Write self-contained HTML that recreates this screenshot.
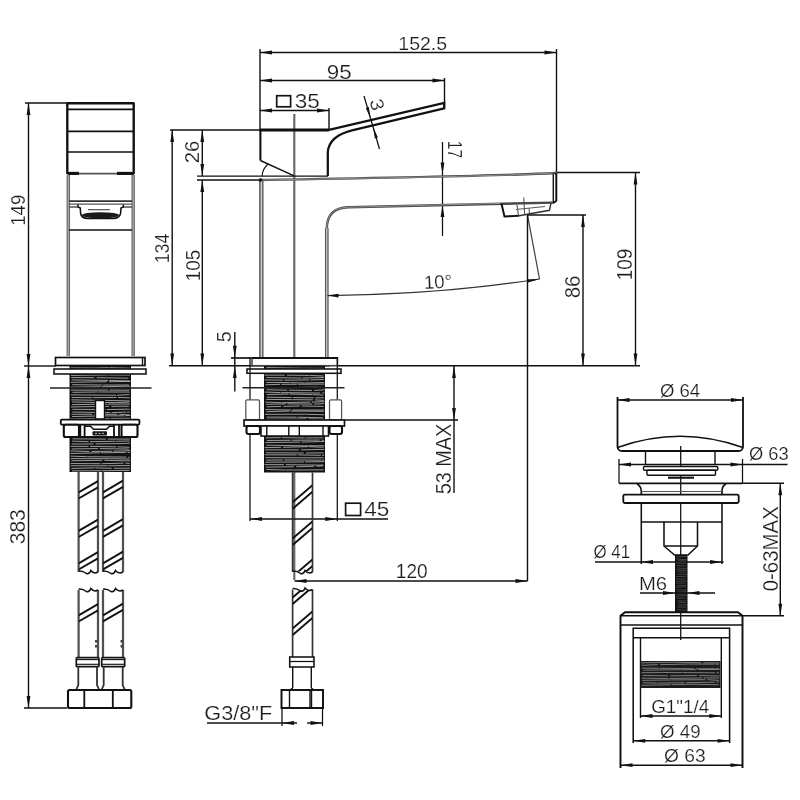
<!DOCTYPE html>
<html><head><meta charset="utf-8"><title>Drawing</title>
<style>
html,body{margin:0;padding:0;background:#fff;}
body{width:800px;height:800px;overflow:hidden;}
svg{display:block;}
text{font-family:"Liberation Sans",sans-serif;stroke:#fff;stroke-width:0.2px;}
</style></head><body>
<svg width="800" height="800" viewBox="0 0 800 800">
<rect width="800" height="800" fill="#fff"/>
<g opacity="0.999">
<line x1="25" y1="103" x2="67" y2="103" stroke="#111" stroke-width="1.4" />
<line x1="24" y1="366" x2="56" y2="366" stroke="#111" stroke-width="1.4" />
<line x1="24" y1="708" x2="67" y2="708" stroke="#111" stroke-width="1.4" />
<line x1="28.5" y1="103" x2="28.5" y2="366" stroke="#111" stroke-width="1.4" />
<polygon points="28.50,103.00 30.40,115.00 26.60,115.00" fill="#111"/>
<polygon points="28.50,366.00 26.60,354.00 30.40,354.00" fill="#111"/>
<line x1="28.5" y1="366" x2="28.5" y2="708" stroke="#111" stroke-width="1.4" />
<polygon points="28.50,366.00 30.40,378.00 26.60,378.00" fill="#111"/>
<polygon points="28.50,708.00 26.60,696.00 30.40,696.00" fill="#111"/>
<text x="25.00" y="210.25" font-size="20.95" text-anchor="middle" fill="#1c1c1c" transform="rotate(-90 25.00 210.25)" textLength="31.0" lengthAdjust="spacingAndGlyphs">149</text>
<text x="25.00" y="526.75" font-size="21.65" text-anchor="middle" fill="#1c1c1c" transform="rotate(-90 25.00 526.75)" textLength="35.1" lengthAdjust="spacingAndGlyphs">383</text>
<line x1="66.8" y1="103.3" x2="134.4" y2="103.3" stroke="#111" stroke-width="2.38" />
<line x1="67.3" y1="103" x2="67.3" y2="174" stroke="#111" stroke-width="2.38" />
<line x1="133.7" y1="103" x2="133.7" y2="174" stroke="#111" stroke-width="2.38" />
<line x1="68" y1="109.3" x2="133.5" y2="109.3" stroke="#111" stroke-width="1.68" />
<line x1="68" y1="131.3" x2="133.5" y2="131.3" stroke="#111" stroke-width="1.68" />
<line x1="68" y1="152" x2="133.5" y2="152" stroke="#111" stroke-width="1.68" />
<line x1="68" y1="173.6" x2="133.5" y2="173.6" stroke="#555" stroke-width="1.82" />
<line x1="67.5" y1="173.4" x2="79" y2="173.4" stroke="#111" stroke-width="3.08" />
<line x1="117" y1="173.4" x2="134" y2="173.4" stroke="#111" stroke-width="3.08" />
<line x1="68.3" y1="175" x2="68.3" y2="356" stroke="#707070" stroke-width="3.5" />
<line x1="68.3" y1="175" x2="68.3" y2="356" stroke="#ccc" stroke-width="0.7" />
<line x1="133.2" y1="175" x2="133.2" y2="356" stroke="#707070" stroke-width="3.5" />
<line x1="133.2" y1="175" x2="133.2" y2="356" stroke="#ccc" stroke-width="0.7" />
<line x1="69" y1="201.2" x2="132" y2="201.2" stroke="#333" stroke-width="1.82" />
<line x1="69" y1="204.2" x2="132" y2="204.2" stroke="#555" stroke-width="1.26" />
<line x1="69" y1="207" x2="77.5" y2="207" stroke="#444" stroke-width="1.4" />
<line x1="123" y1="207" x2="132" y2="207" stroke="#444" stroke-width="1.4" />
<path d="M78,204.5 L78,207 L80.3,208 L80.6,213.5 Q81.5,218.3 88,218.6 L113,218.6 Q119.5,218.3 120.6,213.5 L121,208 L123.3,207 L123.3,204.5" stroke="#111" stroke-width="1.54" fill="none" />
<ellipse cx="100.5" cy="215.3" rx="18.5" ry="3.1" fill="#1a1a1a"/>
<line x1="88" y1="209.7" x2="110" y2="209.7" stroke="#444" stroke-width="1.12" />
<line x1="69" y1="230" x2="132" y2="230" stroke="#111" stroke-width="1.4" />
<rect x="55.5" y="357.5" width="89.5" height="8.0" rx="0" stroke="#111" stroke-width="1.68" fill="none"/>
<line x1="142.5" y1="357.5" x2="142.5" y2="365.5" stroke="#111" stroke-width="1.4" />
<rect x="69.5" y="366" width="61.5" height="106" fill="#121212"/>
<path d="M70.6,367.86L94.2,368.04M94.4,368.04L108.7,367.70M109.3,367.70L129.8,368.17" stroke="#f2f2f2" stroke-width="0.62" fill="none"/>
<path d="M71.6,370.08L102.1,370.11M104.0,370.11L130.4,370.47" stroke="#f2f2f2" stroke-width="0.62" fill="none"/>
<path d="M70.8,372.46L107.3,372.76M109.5,372.76L129.1,372.62" stroke="#f2f2f2" stroke-width="0.62" fill="none"/>
<path d="M71.1,375.45L108.0,374.94M108.5,374.94L129.8,375.12" stroke="#f2f2f2" stroke-width="0.62" fill="none"/>
<path d="M71.3,377.57L94.4,377.69M96.7,377.69L128.4,378.19" stroke="#f2f2f2" stroke-width="0.62" fill="none"/>
<path d="M71.7,379.89L108.1,380.45M109.5,380.45L130.2,380.92" stroke="#f2f2f2" stroke-width="0.62" fill="none"/>
<path d="M70.7,382.28L106.9,381.70M108.9,381.70L130.3,381.41" stroke="#f2f2f2" stroke-width="0.62" fill="none"/>
<path d="M72.2,384.71L102.2,385.02M103.0,385.02L129.0,385.03" stroke="#f2f2f2" stroke-width="0.62" fill="none"/>
<path d="M70.8,387.18L100.4,386.76M101.4,386.76L130.3,386.12" stroke="#f2f2f2" stroke-width="0.62" fill="none"/>
<path d="M70.8,390.16L108.1,390.11M109.4,390.11L129.6,390.19" stroke="#f2f2f2" stroke-width="0.62" fill="none"/>
<path d="M72.4,392.34L97.6,391.97M98.3,391.97L129.7,392.04" stroke="#f2f2f2" stroke-width="0.62" fill="none"/>
<path d="M71.0,394.84L85.6,395.02M85.7,395.02L116.0,395.27M116.9,395.27L129.4,394.60" stroke="#f2f2f2" stroke-width="0.62" fill="none"/>
<path d="M71.7,397.52L92.2,397.65M93.0,397.65L116.5,397.46M118.0,397.46L129.9,397.84" stroke="#f2f2f2" stroke-width="0.62" fill="none"/>
<path d="M71.4,399.83L93.5,400.25M94.1,400.25L113.0,400.53M113.2,400.53L130.0,401.00" stroke="#f2f2f2" stroke-width="0.62" fill="none"/>
<path d="M72.1,401.94L94.9,402.48M96.0,402.48L115.9,402.52M116.3,402.52L129.2,402.08" stroke="#f2f2f2" stroke-width="0.62" fill="none"/>
<path d="M72.0,404.67L107.0,404.15M107.7,404.15L130.1,403.94" stroke="#f2f2f2" stroke-width="0.62" fill="none"/>
<path d="M71.0,406.98L109.0,406.29M111.3,406.29L129.0,406.20" stroke="#f2f2f2" stroke-width="0.62" fill="none"/>
<path d="M72.3,409.32L105.7,409.55M107.0,409.55L128.5,409.17M128.7,409.17L130.1,409.60" stroke="#f2f2f2" stroke-width="0.62" fill="none"/>
<path d="M72.3,412.05L110.3,412.61M111.7,412.61L126.1,412.15M126.8,412.15L129.7,412.03" stroke="#f2f2f2" stroke-width="0.62" fill="none"/>
<path d="M71.5,414.29L92.1,414.26M94.1,414.26L117.2,414.31M119.2,414.31L129.3,414.90" stroke="#f2f2f2" stroke-width="0.62" fill="none"/>
<path d="M72.1,416.54L102.4,415.91M103.1,415.91L124.1,415.80M125.2,415.80L130.5,415.18" stroke="#f2f2f2" stroke-width="0.62" fill="none"/>
<path d="M70.3,419.03L109.7,418.45M110.9,418.45L130.0,418.24" stroke="#f2f2f2" stroke-width="0.62" fill="none"/>
<path d="M71.5,421.65L90.4,421.13M91.8,421.13L124.4,420.54M124.9,420.54L129.6,420.93" stroke="#f2f2f2" stroke-width="0.62" fill="none"/>
<path d="M72.0,424.26L97.2,424.26M99.0,424.26L123.9,424.20M124.5,424.20L129.5,423.60" stroke="#f2f2f2" stroke-width="0.62" fill="none"/>
<path d="M71.1,426.87L109.4,427.42M111.4,427.42L129.8,426.89" stroke="#f2f2f2" stroke-width="0.62" fill="none"/>
<path d="M71.7,429.32L106.3,429.65M107.7,429.65L124.4,428.95M124.7,428.95L130.4,428.38" stroke="#f2f2f2" stroke-width="0.62" fill="none"/>
<path d="M72.2,431.34L86.8,430.81M88.9,430.81L120.4,431.45M121.9,431.45L130.4,431.82" stroke="#f2f2f2" stroke-width="0.62" fill="none"/>
<path d="M71.8,433.75L105.3,433.14M106.1,433.14L129.3,432.78" stroke="#f2f2f2" stroke-width="0.62" fill="none"/>
<path d="M70.6,436.51L104.2,436.32M105.2,436.32L128.3,435.74" stroke="#f2f2f2" stroke-width="0.62" fill="none"/>
<path d="M72.4,438.84L105.9,439.10M107.8,439.10L129.7,439.08" stroke="#f2f2f2" stroke-width="0.62" fill="none"/>
<path d="M72.2,441.13L88.7,441.71M90.0,441.71L115.5,441.27M116.2,441.27L129.6,441.01" stroke="#f2f2f2" stroke-width="0.62" fill="none"/>
<path d="M71.7,444.06L93.4,443.94M95.6,443.94L124.8,443.54M124.8,443.54L129.9,443.08" stroke="#f2f2f2" stroke-width="0.62" fill="none"/>
<path d="M70.8,446.40L88.5,446.37M90.0,446.37L116.2,446.82M117.6,446.82L129.4,447.32" stroke="#f2f2f2" stroke-width="0.62" fill="none"/>
<path d="M71.8,448.96L98.0,448.59M99.8,448.59L129.1,449.09" stroke="#f2f2f2" stroke-width="0.62" fill="none"/>
<path d="M70.5,450.99L89.3,451.49M91.6,451.49L112.2,451.23M113.3,451.23L130.4,450.66" stroke="#f2f2f2" stroke-width="0.62" fill="none"/>
<path d="M70.7,453.50L99.8,452.81M100.7,452.81L126.0,452.41M127.5,452.41L129.9,452.47" stroke="#f2f2f2" stroke-width="0.62" fill="none"/>
<path d="M70.7,456.14L87.6,456.71M87.9,456.71L126.3,457.09M128.2,457.09L129.5,457.31" stroke="#f2f2f2" stroke-width="0.62" fill="none"/>
<path d="M70.7,458.64L109.7,458.69M109.9,458.69L130.0,459.00" stroke="#f2f2f2" stroke-width="0.62" fill="none"/>
<path d="M71.4,460.75L102.2,460.30M104.4,460.30L130.3,460.90" stroke="#f2f2f2" stroke-width="0.62" fill="none"/>
<path d="M70.8,463.52L100.4,463.73M101.5,463.73L123.6,463.12M125.4,463.12L129.7,463.46" stroke="#f2f2f2" stroke-width="0.62" fill="none"/>
<path d="M70.7,465.77L107.4,465.77M108.0,465.77L130.0,465.54" stroke="#f2f2f2" stroke-width="0.62" fill="none"/>
<path d="M71.4,468.45L94.5,467.91M95.2,467.91L111.8,468.30M113.6,468.30L130.2,468.18" stroke="#f2f2f2" stroke-width="0.62" fill="none"/>
<path d="M72.0,470.89L101.4,470.74M101.9,470.74L129.6,470.33" stroke="#f2f2f2" stroke-width="0.62" fill="none"/>
<rect x="54" y="369" width="92" height="5" rx="0" stroke="#111" stroke-width="1.54" fill="#fff"/>
<line x1="50" y1="388" x2="151.5" y2="388" stroke="#222" stroke-width="1.54" />
<rect x="95.5" y="400.5" width="9.0" height="18.5" rx="0" stroke="#111" stroke-width="1.4" fill="#fff"/>
<rect x="63.8" y="424.5" width="73.7" height="12.6" fill="#fff"/>
<rect x="60.8" y="419.6" width="78.60000000000001" height="5.0" rx="1" stroke="#111" stroke-width="1.82" fill="#fff"/>
<rect x="63.8" y="424.8" width="15.200000000000003" height="12.199999999999989" rx="1.8" stroke="#111" stroke-width="2.1" fill="#fff"/>
<rect x="121.5" y="424.8" width="16.0" height="12.199999999999989" rx="1.8" stroke="#111" stroke-width="2.1" fill="#fff"/>
<line x1="80.3" y1="425" x2="80.3" y2="437" stroke="#111" stroke-width="1.82" />
<line x1="84.6" y1="425" x2="84.6" y2="437" stroke="#111" stroke-width="1.82" />
<line x1="114" y1="425" x2="114" y2="437" stroke="#111" stroke-width="1.82" />
<line x1="119" y1="425" x2="119" y2="437" stroke="#111" stroke-width="1.82" />
<line x1="79" y1="437" x2="121.5" y2="437" stroke="#111" stroke-width="1.96" />
<path d="M85,426.3 L90.5,426.3 L93.5,429.3 L106.5,429.3 L109.5,426.3 L114,426.3" stroke="#111" stroke-width="1.54" fill="none" />
<rect x="92.5" y="431.2" width="14.5" height="4.4" rx="1" fill="#151515"/>
<line x1="95" y1="433.4" x2="105" y2="433.4" stroke="#ddd" stroke-width="0.84" stroke-dasharray="2 1.5"/>
<line x1="78.6" y1="472" x2="78.6" y2="572" stroke="#505050" stroke-width="2.24" />
<line x1="78.6" y1="590" x2="78.6" y2="657.5" stroke="#505050" stroke-width="2.24" />
<line x1="98" y1="472" x2="98" y2="572" stroke="#505050" stroke-width="2.24" />
<line x1="98" y1="590" x2="98" y2="657.5" stroke="#505050" stroke-width="2.24" />
<path d="M78.6,571 Q82.47999999999999,570.5 86.36,573.5 Q89.3,574.5 90.8,570.5 Q94.12,574.5 98,572" stroke="#111" stroke-width="1.54" fill="none" />
<path d="M78.6,589 Q82.47999999999999,588.5 86.36,591.5 Q89.3,592.5 90.8,588.5 Q94.12,592.5 98,590" stroke="#111" stroke-width="1.54" fill="none" />
<clipPath id="hc1"><rect x="78.6" y="473" width="19.400000000000006" height="98.5"/></clipPath>
<g clip-path="url(#hc1)">
<line x1="78.6" y1="498.5" x2="98" y2="487.248" stroke="#111" stroke-width="1.96" />
<line x1="78.6" y1="492.3" x2="98" y2="481.048" stroke="#111" stroke-width="1.96" />
<line x1="78.6" y1="537" x2="98" y2="525.748" stroke="#111" stroke-width="1.96" />
<line x1="78.6" y1="530.8" x2="98" y2="519.548" stroke="#111" stroke-width="1.96" />
<line x1="78.6" y1="569.5" x2="98" y2="558.248" stroke="#111" stroke-width="1.96" />
<line x1="78.6" y1="563.3" x2="98" y2="552.048" stroke="#111" stroke-width="1.96" />
</g>
<clipPath id="hc2"><rect x="78.6" y="591" width="19.400000000000006" height="66.0"/></clipPath>
<g clip-path="url(#hc2)">
<line x1="78.6" y1="621.5" x2="98" y2="610.248" stroke="#111" stroke-width="1.96" />
<line x1="78.6" y1="615.3" x2="98" y2="604.048" stroke="#111" stroke-width="1.96" />
</g>
<line x1="103" y1="472" x2="103" y2="572" stroke="#505050" stroke-width="2.24" />
<line x1="103" y1="590" x2="103" y2="657.5" stroke="#505050" stroke-width="2.24" />
<line x1="123" y1="472" x2="123" y2="572" stroke="#505050" stroke-width="2.24" />
<line x1="123" y1="590" x2="123" y2="657.5" stroke="#505050" stroke-width="2.24" />
<path d="M103,571 Q107.0,570.5 111.0,573.5 Q114.0,574.5 115.5,570.5 Q119.0,574.5 123,572" stroke="#111" stroke-width="1.54" fill="none" />
<path d="M103,589 Q107.0,588.5 111.0,591.5 Q114.0,592.5 115.5,588.5 Q119.0,592.5 123,590" stroke="#111" stroke-width="1.54" fill="none" />
<clipPath id="hc3"><rect x="103" y="473" width="20" height="98.5"/></clipPath>
<g clip-path="url(#hc3)">
<line x1="103" y1="498.5" x2="123" y2="486.9" stroke="#111" stroke-width="1.96" />
<line x1="103" y1="492.3" x2="123" y2="480.7" stroke="#111" stroke-width="1.96" />
<line x1="103" y1="537" x2="123" y2="525.4" stroke="#111" stroke-width="1.96" />
<line x1="103" y1="530.8" x2="123" y2="519.1999999999999" stroke="#111" stroke-width="1.96" />
<line x1="103" y1="569.5" x2="123" y2="557.9" stroke="#111" stroke-width="1.96" />
<line x1="103" y1="563.3" x2="123" y2="551.6999999999999" stroke="#111" stroke-width="1.96" />
</g>
<clipPath id="hc4"><rect x="103" y="591" width="20" height="66.0"/></clipPath>
<g clip-path="url(#hc4)">
<line x1="103" y1="621.5" x2="123" y2="609.9" stroke="#111" stroke-width="1.96" />
<line x1="103" y1="615.3" x2="123" y2="603.6999999999999" stroke="#111" stroke-width="1.96" />
</g>
<rect x="76.3" y="657.7" width="22.700000000000003" height="9.0" rx="1" stroke="#111" stroke-width="1.68" fill="#fff"/>
<line x1="76.3" y1="659.6" x2="99" y2="659.6" stroke="#111" stroke-width="1.12" />
<line x1="76.3" y1="664.3" x2="99" y2="664.3" stroke="#111" stroke-width="1.12" />
<path d="M78.3,666.7 L78.3,685 L76.3,689.5 M97,666.7 L97,685 L99,689.5" stroke="#333" stroke-width="1.82" fill="none" />
<rect x="101.7" y="657.7" width="23.0" height="9.0" rx="1" stroke="#111" stroke-width="1.68" fill="#fff"/>
<line x1="101.7" y1="659.6" x2="124.7" y2="659.6" stroke="#111" stroke-width="1.12" />
<line x1="101.7" y1="664.3" x2="124.7" y2="664.3" stroke="#111" stroke-width="1.12" />
<path d="M103.7,666.7 L103.7,685 L101.7,689.5 M122.7,666.7 L122.7,685 L124.7,689.5" stroke="#333" stroke-width="1.82" fill="none" />
<line x1="96" y1="640" x2="96" y2="650" stroke="#333" stroke-width="1.82" stroke-dasharray="2.5 2.5"/>
<line x1="121.5" y1="640" x2="121.5" y2="650" stroke="#333" stroke-width="1.82" stroke-dasharray="2.5 2.5"/>
<rect x="68" y="690" width="63.30000000000001" height="18" rx="1.5" stroke="#111" stroke-width="2.1" fill="#fff"/>
<line x1="84.3" y1="690" x2="84.3" y2="708" stroke="#111" stroke-width="1.82" />
<line x1="112.8" y1="690" x2="112.8" y2="708" stroke="#111" stroke-width="1.82" />
<line x1="260" y1="49" x2="260" y2="130" stroke="#111" stroke-width="1.4" />
<line x1="260" y1="52.5" x2="556.5" y2="52.5" stroke="#111" stroke-width="1.4" />
<polygon points="260.00,52.50 272.00,50.60 272.00,54.40" fill="#111"/>
<polygon points="556.50,52.50 544.50,54.40 544.50,50.60" fill="#111"/>
<line x1="556.5" y1="49" x2="556.5" y2="172" stroke="#111" stroke-width="1.4" />
<text x="422.75" y="50.00" font-size="18.99" text-anchor="middle" fill="#1c1c1c" textLength="48.8" lengthAdjust="spacingAndGlyphs">152.5</text>
<line x1="260" y1="80.5" x2="444.5" y2="80.5" stroke="#111" stroke-width="1.4" />
<polygon points="260.00,80.50 272.00,78.60 272.00,82.40" fill="#111"/>
<polygon points="444.50,80.50 432.50,82.40 432.50,78.60" fill="#111"/>
<line x1="444.5" y1="78" x2="444.5" y2="108" stroke="#111" stroke-width="1.4" />
<text x="339.25" y="78.70" font-size="19.97" text-anchor="middle" fill="#1c1c1c" textLength="24.9" lengthAdjust="spacingAndGlyphs">95</text>
<line x1="260" y1="110.5" x2="329" y2="110.5" stroke="#111" stroke-width="1.4" />
<polygon points="260.00,110.50 272.00,108.60 272.00,112.40" fill="#111"/>
<polygon points="329.00,110.50 317.00,112.40 317.00,108.60" fill="#111"/>
<line x1="329" y1="108" x2="329" y2="130" stroke="#111" stroke-width="1.4" />
<rect x="276.7" y="95.7" width="13.900000000000034" height="11.099999999999994" rx="0" stroke="#111" stroke-width="1.68" fill="none"/>
<text x="307.35" y="107.50" font-size="19.69" text-anchor="middle" fill="#1c1c1c" textLength="25.1" lengthAdjust="spacingAndGlyphs">35</text>
<line x1="294.3" y1="114" x2="294.3" y2="580" stroke="#666" stroke-width="2.1" />
<line x1="170" y1="130" x2="260" y2="130" stroke="#111" stroke-width="1.4" />
<line x1="169" y1="365.7" x2="330" y2="365.7" stroke="#111" stroke-width="1.4" />
<line x1="172.2" y1="130" x2="172.2" y2="365.5" stroke="#111" stroke-width="1.4" />
<polygon points="172.20,130.00 174.10,142.00 170.30,142.00" fill="#111"/>
<polygon points="172.20,365.50 170.30,353.50 174.10,353.50" fill="#111"/>
<line x1="202.3" y1="130" x2="202.3" y2="176.1" stroke="#111" stroke-width="1.4" />
<polygon points="202.30,130.00 204.20,142.00 200.40,142.00" fill="#111"/>
<polygon points="202.30,176.10 200.40,164.10 204.20,164.10" fill="#111"/>
<line x1="202.3" y1="180" x2="202.3" y2="365.5" stroke="#111" stroke-width="1.4" />
<polygon points="202.30,180.00 204.20,192.00 200.40,192.00" fill="#111"/>
<polygon points="202.30,365.50 200.40,353.50 204.20,353.50" fill="#111"/>
<line x1="197" y1="176.1" x2="328" y2="176.1" stroke="#111" stroke-width="1.4" />
<line x1="197" y1="180" x2="260" y2="180" stroke="#111" stroke-width="1.4" />
<text x="169.00" y="248.50" font-size="20.11" text-anchor="middle" fill="#1c1c1c" transform="rotate(-90 169.00 248.50)" textLength="29.4" lengthAdjust="spacingAndGlyphs">134</text>
<text x="199.00" y="152.00" font-size="20.81" text-anchor="middle" fill="#1c1c1c" transform="rotate(-90 199.00 152.00)" textLength="22.5" lengthAdjust="spacingAndGlyphs">26</text>
<text x="199.50" y="265.50" font-size="20.81" text-anchor="middle" fill="#1c1c1c" transform="rotate(-90 199.50 265.50)" textLength="31.5" lengthAdjust="spacingAndGlyphs">105</text>
<line x1="234.8" y1="332" x2="234.8" y2="391.5" stroke="#111" stroke-width="1.4" />
<polygon points="234.80,357.80 232.90,345.80 236.70,345.80" fill="#111"/>
<polygon points="234.80,366.00 236.70,378.00 232.90,378.00" fill="#111"/>
<text x="231.00" y="336.75" font-size="20.81" text-anchor="middle" fill="#1c1c1c" transform="rotate(-90 231.00 336.75)" textLength="11.0" lengthAdjust="spacingAndGlyphs">5</text>
<line x1="231" y1="358" x2="252" y2="358" stroke="#111" stroke-width="1.68" />
<line x1="259.5" y1="130" x2="329" y2="130" stroke="#111" stroke-width="2.8" />
<path d="M260.4,130 L260.4,160.5" stroke="#111" stroke-width="2.1" fill="none" />
<path d="M260.4,160.5 L294,175.8" stroke="#111" stroke-width="1.4" fill="none" />
<path d="M262,176 Q262.5,169 268,164" stroke="#111" stroke-width="1.12" fill="none" />
<path d="M329,129.9 L444.2,102.8 L444.2,108.4 L352,130.3 Q329,136 327.8,152 L327.8,176" stroke="#111" stroke-width="2.24" fill="none" />
<line x1="364" y1="96" x2="379.5" y2="149" stroke="#111" stroke-width="1.26" />
<polygon points="370.40,118.00 365.78,107.89 368.85,106.99" fill="#111"/>
<polygon points="373.30,127.50 377.92,137.61 374.85,138.51" fill="#111"/>
<text x="377.5" y="111.25" font-size="18.85" text-anchor="middle" fill="#1c1c1c" transform="rotate(76 377.5 104.5)" textLength="11.3" lengthAdjust="spacingAndGlyphs">3</text>
<line x1="442.5" y1="142" x2="442.5" y2="236" stroke="#111" stroke-width="1.26" />
<polygon points="442.50,174.50 440.60,162.50 444.40,162.50" fill="#111"/>
<polygon points="442.50,205.00 444.40,217.00 440.60,217.00" fill="#111"/>
<text x="447.50" y="149.50" font-size="19.41" text-anchor="middle" fill="#1c1c1c" transform="rotate(90 447.50 149.50)" textLength="17.3" lengthAdjust="spacingAndGlyphs">17</text>
<path d="M260,180 C400,177.6 500,176 556,173" stroke="#484848" stroke-width="2.38" fill="none" />
<path d="M262,180 C400,177.6 500,176 554,173" stroke="#c8c8c8" stroke-width="0.56" fill="none" />
<path d="M556.3,172.8 L556.3,200.8 L553,203.3" stroke="#111" stroke-width="1.96" fill="none" />
<line x1="553.3" y1="173.5" x2="553.3" y2="203" stroke="#111" stroke-width="1.4" />
<path d="M326.8,229 L326.8,228 Q327.3,208 348,207.2 C410,205.8 480,203.8 553,202.6" stroke="#484848" stroke-width="2.38" fill="none" />
<path d="M326.8,229 L326.8,228 Q327.3,208 348,207.2 C410,205.8 480,203.8 500,203.4" stroke="#c8c8c8" stroke-width="0.56" fill="none" />
<line x1="261.3" y1="181" x2="261.3" y2="357" stroke="#6c6c6c" stroke-width="4.62" />
<line x1="261.3" y1="181" x2="261.3" y2="357" stroke="#d8d8d8" stroke-width="1.12" />
<line x1="326.8" y1="228" x2="326.8" y2="357" stroke="#555" stroke-width="3.64" />
<line x1="326.8" y1="228" x2="326.8" y2="357" stroke="#e0e0e0" stroke-width="1.12" />
<circle cx="260.5" cy="180" r="1.8" fill="#111"/>
<path d="M501.5,203.7 L504.5,216.5 L519,215.8" stroke="#111" stroke-width="1.96" fill="none" />
<path d="M519,215.8 L549.5,210.3 L551,203" stroke="#333" stroke-width="1.4" fill="none" />
<path d="M517,205 L518.5,215.5 M516,209.5 L545,206.5 M529,208 L529.5,213" stroke="#555" stroke-width="1.12" fill="none" />
<line x1="523.8" y1="197.5" x2="524.6" y2="215" stroke="#444" stroke-width="0.98" />
<line x1="527.5" y1="215" x2="539.5" y2="279" stroke="#444" stroke-width="1.26" />
<path d="M539.5,279 Q440,294.5 327.5,295.6" stroke="#333" stroke-width="1.26" fill="none" />
<polygon points="539.50,279.20 527.85,282.55 527.38,279.19" fill="#111"/>
<polygon points="327.50,295.60 338.50,293.70 338.50,297.50" fill="#111"/>
<text x="438" y="288.25" font-size="18.85" text-anchor="middle" fill="#1c1c1c" transform="rotate(-3 438 281.5)" textLength="28.3" lengthAdjust="spacingAndGlyphs">10°</text>
<line x1="556.5" y1="172.5" x2="640" y2="172.5" stroke="#111" stroke-width="1.4" />
<line x1="337.5" y1="365.7" x2="640" y2="365.7" stroke="#111" stroke-width="1.4" />
<line x1="635.5" y1="172.5" x2="635.5" y2="365.5" stroke="#111" stroke-width="1.4" />
<polygon points="635.50,172.50 637.40,184.50 633.60,184.50" fill="#111"/>
<polygon points="635.50,365.50 633.60,353.50 637.40,353.50" fill="#111"/>
<line x1="527.5" y1="215" x2="586" y2="215" stroke="#111" stroke-width="1.4" />
<line x1="583" y1="215" x2="583" y2="365.5" stroke="#111" stroke-width="1.4" />
<polygon points="583.00,215.00 584.90,227.00 581.10,227.00" fill="#111"/>
<polygon points="583.00,365.50 581.10,353.50 584.90,353.50" fill="#111"/>
<text x="632.00" y="264.50" font-size="21.51" text-anchor="middle" fill="#1c1c1c" transform="rotate(-90 632.00 264.50)" textLength="31.6" lengthAdjust="spacingAndGlyphs">109</text>
<text x="580.00" y="287.00" font-size="22.21" text-anchor="middle" fill="#1c1c1c" transform="rotate(-90 580.00 287.00)" textLength="22.7" lengthAdjust="spacingAndGlyphs">86</text>
<line x1="527.5" y1="215" x2="527.5" y2="581" stroke="#111" stroke-width="1.4" />
<rect x="252" y="358" width="85.5" height="7.699999999999989" rx="0" stroke="#444" stroke-width="1.54" fill="#fff"/>
<line x1="252" y1="358" x2="337.5" y2="358" stroke="#111" stroke-width="2.1" />
<rect x="264" y="366" width="61" height="55" fill="#121212"/>
<path d="M266.5,367.56L301.3,368.18M302.3,368.18L323.6,368.37" stroke="#f2f2f2" stroke-width="0.62" fill="none"/>
<path d="M266.2,370.17L302.6,370.31M304.4,370.31L318.5,370.54M319.7,370.54L323.8,370.11" stroke="#f2f2f2" stroke-width="0.62" fill="none"/>
<path d="M264.6,372.74L295.4,372.83M297.8,372.83L324.3,373.24" stroke="#f2f2f2" stroke-width="0.62" fill="none"/>
<path d="M264.6,375.10L284.7,375.16M287.0,375.16L309.4,375.43M309.8,375.43L323.6,376.03" stroke="#f2f2f2" stroke-width="0.62" fill="none"/>
<path d="M266.3,377.54L301.3,378.05M302.4,378.05L323.8,377.50" stroke="#f2f2f2" stroke-width="0.62" fill="none"/>
<path d="M264.7,379.91L282.9,380.19M284.2,380.19L309.2,379.91M310.4,379.91L323.9,379.47" stroke="#f2f2f2" stroke-width="0.62" fill="none"/>
<path d="M266.3,382.46L289.9,382.59M290.5,382.59L304.6,382.99M304.9,382.99L324.2,382.58" stroke="#f2f2f2" stroke-width="0.62" fill="none"/>
<path d="M265.5,384.79L280.2,384.32M281.4,384.32L297.0,384.25M298.0,384.25L324.4,384.12" stroke="#f2f2f2" stroke-width="0.62" fill="none"/>
<path d="M264.6,387.72L284.3,387.68M284.7,387.68L314.9,387.15M315.0,387.15L324.1,387.56" stroke="#f2f2f2" stroke-width="0.62" fill="none"/>
<path d="M266.8,389.77L287.3,390.21M288.9,390.21L311.9,390.46M314.3,390.46L324.5,389.81" stroke="#f2f2f2" stroke-width="0.62" fill="none"/>
<path d="M264.9,392.06L280.3,392.62M280.8,392.62L320.2,393.04M322.4,393.04L324.4,392.77" stroke="#f2f2f2" stroke-width="0.62" fill="none"/>
<path d="M266.9,394.54L288.5,394.00M289.5,394.00L312.2,394.60M312.6,394.60L323.4,395.07" stroke="#f2f2f2" stroke-width="0.62" fill="none"/>
<path d="M266.8,397.16L291.6,397.55M292.8,397.55L313.8,397.86M315.3,397.86L323.9,397.84" stroke="#f2f2f2" stroke-width="0.62" fill="none"/>
<path d="M266.3,399.40L292.4,399.65M292.7,399.65L312.8,399.85M315.0,399.85L323.8,400.40" stroke="#f2f2f2" stroke-width="0.62" fill="none"/>
<path d="M265.3,402.06L281.2,402.70M281.5,402.70L310.3,402.11M311.9,402.11L324.4,401.62" stroke="#f2f2f2" stroke-width="0.62" fill="none"/>
<path d="M266.0,404.29L285.9,403.90M287.3,403.90L312.3,404.05M314.2,404.05L324.2,403.60" stroke="#f2f2f2" stroke-width="0.62" fill="none"/>
<path d="M266.6,406.81L281.2,406.38M283.4,406.38L299.7,406.00M301.7,406.00L323.5,406.36" stroke="#f2f2f2" stroke-width="0.62" fill="none"/>
<path d="M265.4,409.55L291.0,410.02M292.4,410.02L324.2,410.07" stroke="#f2f2f2" stroke-width="0.62" fill="none"/>
<path d="M266.3,411.68L289.3,411.08M290.7,411.08L323.8,411.29" stroke="#f2f2f2" stroke-width="0.62" fill="none"/>
<path d="M265.0,414.30L304.9,414.20M305.1,414.20L324.3,414.80" stroke="#f2f2f2" stroke-width="0.62" fill="none"/>
<path d="M266.7,417.13L296.6,417.18M297.6,417.18L323.1,417.81" stroke="#f2f2f2" stroke-width="0.62" fill="none"/>
<path d="M266.4,419.23L306.4,418.94M308.7,418.94L324.4,419.25" stroke="#f2f2f2" stroke-width="0.62" fill="none"/>
<rect x="247" y="369" width="94" height="4.300000000000011" rx="0" stroke="#111" stroke-width="1.54" fill="#fff"/>
<line x1="242.5" y1="387.7" x2="344.5" y2="387.7" stroke="#222" stroke-width="1.54" />
<line x1="250" y1="357" x2="250" y2="521" stroke="#111" stroke-width="1.26" />
<line x1="337.3" y1="357" x2="337.3" y2="521" stroke="#111" stroke-width="1.26" />
<rect x="245.8" y="399.8" width="13.699999999999989" height="20.19999999999999" rx="1.5" stroke="#555" stroke-width="1.26" fill="#fff"/>
<rect x="329.5" y="399.8" width="12.100000000000023" height="20.19999999999999" rx="1.5" stroke="#555" stroke-width="1.26" fill="#fff"/>
<rect x="244" y="420" width="100.5" height="6" rx="0" stroke="#111" stroke-width="1.68" fill="#fff"/>
<rect x="261" y="426" width="67.5" height="10" rx="0" stroke="#111" stroke-width="1.54" fill="#fff"/>
<rect x="246.5" y="426" width="13.5" height="8" rx="2" stroke="#111" stroke-width="2.1" fill="#fff"/>
<rect x="329.5" y="426" width="12.5" height="8" rx="2" stroke="#111" stroke-width="2.1" fill="#fff"/>
<line x1="266.8" y1="426" x2="266.8" y2="436" stroke="#111" stroke-width="1.4" />
<line x1="288.8" y1="426" x2="288.8" y2="436" stroke="#111" stroke-width="1.4" />
<line x1="299.3" y1="426" x2="299.3" y2="436" stroke="#111" stroke-width="1.4" />
<line x1="323" y1="426" x2="323" y2="436" stroke="#111" stroke-width="1.4" />
<rect x="264" y="436" width="61" height="36.5" fill="#121212"/>
<path d="M265.8,437.92L280.9,437.61M281.9,437.61L304.9,437.95M305.6,437.95L322.3,437.83M322.5,437.83L323.4,438.11" stroke="#f2f2f2" stroke-width="0.62" fill="none"/>
<path d="M266.9,440.51L290.6,440.25M291.8,440.25L319.5,440.05M321.6,440.05L323.8,440.60" stroke="#f2f2f2" stroke-width="0.62" fill="none"/>
<path d="M265.2,442.58L300.2,442.07M301.5,442.07L324.3,441.44" stroke="#f2f2f2" stroke-width="0.62" fill="none"/>
<path d="M266.4,445.17L305.9,445.84M306.0,445.84L324.5,445.74" stroke="#f2f2f2" stroke-width="0.62" fill="none"/>
<path d="M264.6,447.67L281.1,447.31M283.1,447.31L307.9,446.67M309.0,446.67L323.5,447.25" stroke="#f2f2f2" stroke-width="0.62" fill="none"/>
<path d="M265.1,449.87L298.8,449.88M300.9,449.88L324.1,449.42" stroke="#f2f2f2" stroke-width="0.62" fill="none"/>
<path d="M266.1,452.78L303.7,453.01M306.0,453.01L323.6,452.89" stroke="#f2f2f2" stroke-width="0.62" fill="none"/>
<path d="M264.9,454.80L296.7,454.86M297.7,454.86L320.9,455.29M322.0,455.29L324.3,455.03" stroke="#f2f2f2" stroke-width="0.62" fill="none"/>
<path d="M265.5,457.65L301.0,457.81M301.1,457.81L323.7,457.79" stroke="#f2f2f2" stroke-width="0.62" fill="none"/>
<path d="M266.3,460.13L282.9,459.95M284.2,459.95L321.5,460.16M322.0,460.16L324.2,459.99" stroke="#f2f2f2" stroke-width="0.62" fill="none"/>
<path d="M265.3,462.20L304.0,461.94M305.0,461.94L324.3,461.59" stroke="#f2f2f2" stroke-width="0.62" fill="none"/>
<path d="M264.7,464.63L283.9,464.66M285.8,464.66L321.6,465.11M321.6,465.11L323.1,464.50" stroke="#f2f2f2" stroke-width="0.62" fill="none"/>
<path d="M265.7,467.10L293.9,466.73M296.3,466.73L314.1,466.28M316.5,466.28L323.5,465.78" stroke="#f2f2f2" stroke-width="0.62" fill="none"/>
<path d="M266.4,469.49L285.3,470.02M285.5,470.02L323.7,469.85" stroke="#f2f2f2" stroke-width="0.62" fill="none"/>
<line x1="344.5" y1="420" x2="458" y2="420" stroke="#111" stroke-width="1.4" />
<line x1="454" y1="366" x2="454" y2="493" stroke="#111" stroke-width="1.4" />
<polygon points="454.00,366.00 455.90,378.00 452.10,378.00" fill="#111"/>
<polygon points="454.00,420.00 452.10,408.00 455.90,408.00" fill="#111"/>
<text x="451.00" y="459.00" font-size="22.21" text-anchor="middle" fill="#1c1c1c" transform="rotate(-90 451.00 459.00)" textLength="70.7" lengthAdjust="spacingAndGlyphs">53 MAX</text>
<line x1="250" y1="519" x2="337.3" y2="519" stroke="#111" stroke-width="1.4" />
<polygon points="250.00,519.00 262.00,517.10 262.00,520.90" fill="#111"/>
<polygon points="337.30,519.00 325.30,520.90 325.30,517.10" fill="#111"/>
<line x1="337.3" y1="519" x2="388" y2="519" stroke="#111" stroke-width="1.4" />
<rect x="345.6" y="503.2" width="15.0" height="12.300000000000011" rx="0" stroke="#111" stroke-width="1.68" fill="none"/>
<text x="376.65" y="515.80" font-size="19.55" text-anchor="middle" fill="#1c1c1c" textLength="25.0" lengthAdjust="spacingAndGlyphs">45</text>
<line x1="292.6" y1="472.5" x2="292.6" y2="572" stroke="#333" stroke-width="1.68" />
<line x1="292.6" y1="589.5" x2="292.6" y2="657" stroke="#333" stroke-width="1.68" />
<line x1="312.5" y1="472.5" x2="312.5" y2="572" stroke="#333" stroke-width="1.68" />
<line x1="312.5" y1="589.5" x2="312.5" y2="657" stroke="#333" stroke-width="1.68" />
<path d="M292.6,571 Q296.58000000000004,570.5 300.56,573.5 Q303.55,574.5 305.05,570.5 Q308.52,574.5 312.5,572" stroke="#111" stroke-width="1.54" fill="none" />
<path d="M292.6,588.5 Q296.58000000000004,588.0 300.56,591.0 Q303.55,592.0 305.05,588.0 Q308.52,592.0 312.5,589.5" stroke="#111" stroke-width="1.54" fill="none" />
<clipPath id="hc5"><rect x="292.6" y="473.5" width="19.899999999999977" height="98.0"/></clipPath>
<g clip-path="url(#hc5)">
<line x1="292.6" y1="508.7" x2="312.5" y2="491.7" stroke="#111" stroke-width="1.96" />
<line x1="292.6" y1="502.2" x2="312.5" y2="485.2" stroke="#111" stroke-width="1.96" />
<line x1="292.6" y1="545" x2="312.5" y2="528" stroke="#111" stroke-width="1.96" />
<line x1="292.6" y1="538.5" x2="312.5" y2="521.5" stroke="#111" stroke-width="1.96" />
<line x1="292.6" y1="583" x2="312.5" y2="566" stroke="#111" stroke-width="1.96" />
<line x1="292.6" y1="576.5" x2="312.5" y2="559.5" stroke="#111" stroke-width="1.96" />
</g>
<clipPath id="hc6"><rect x="292.6" y="590.5" width="19.899999999999977" height="66.0"/></clipPath>
<g clip-path="url(#hc6)">
<line x1="292.6" y1="604" x2="312.5" y2="587" stroke="#111" stroke-width="1.96" />
<line x1="292.6" y1="597.5" x2="312.5" y2="580.5" stroke="#111" stroke-width="1.96" />
<line x1="292.6" y1="635" x2="312.5" y2="618" stroke="#111" stroke-width="1.96" />
<line x1="292.6" y1="628.5" x2="312.5" y2="611.5" stroke="#111" stroke-width="1.96" />
</g>
<rect x="289.7" y="657" width="24.30000000000001" height="10" rx="0" stroke="#111" stroke-width="1.54" fill="#fff"/>
<line x1="289.7" y1="661.5" x2="314" y2="661.5" stroke="#111" stroke-width="1.26" />
<line x1="292.7" y1="667" x2="292.7" y2="688" stroke="#111" stroke-width="1.4" />
<line x1="311.3" y1="667" x2="311.3" y2="688" stroke="#111" stroke-width="1.4" />
<path d="M292.7,688 L290,690 M311.3,688 L314,690" stroke="#111" stroke-width="1.4" fill="none" />
<rect x="281.5" y="690" width="41.5" height="18" rx="0" stroke="#111" stroke-width="1.96" fill="#fff"/>
<line x1="289.5" y1="690" x2="289.5" y2="708" stroke="#111" stroke-width="1.4" />
<line x1="310" y1="690" x2="310" y2="708" stroke="#111" stroke-width="1.4" />
<line x1="311.5" y1="690" x2="311.5" y2="708" stroke="#111" stroke-width="1.4" />
<line x1="294.5" y1="581" x2="527.5" y2="581" stroke="#111" stroke-width="1.4" />
<polygon points="294.50,581.00 306.50,579.10 306.50,582.90" fill="#111"/>
<polygon points="527.50,581.00 515.50,582.90 515.50,579.10" fill="#111"/>
<text x="411.75" y="577.50" font-size="19.41" text-anchor="middle" fill="#1c1c1c" textLength="31.8" lengthAdjust="spacingAndGlyphs">120</text>
<line x1="282" y1="708" x2="282" y2="726" stroke="#111" stroke-width="1.26" />
<line x1="322.5" y1="708" x2="322.5" y2="726" stroke="#111" stroke-width="1.26" />
<line x1="207" y1="723" x2="297" y2="723" stroke="#111" stroke-width="1.4" />
<line x1="307" y1="723" x2="322.5" y2="723" stroke="#111" stroke-width="1.4" />
<polygon points="282.00,723.00 294.00,721.10 294.00,724.90" fill="#111"/>
<polygon points="322.50,723.00 310.50,724.90 310.50,721.10" fill="#111"/>
<text x="238.25" y="719.50" font-size="20.11" text-anchor="middle" fill="#1c1c1c" textLength="67.9" lengthAdjust="spacingAndGlyphs">G3/8"F</text>
<text x="680.00" y="396.50" font-size="18.02" text-anchor="middle" fill="#1c1c1c" textLength="40.2" lengthAdjust="spacingAndGlyphs">Ø 64</text>
<line x1="617.5" y1="400" x2="743" y2="400" stroke="#111" stroke-width="1.4" />
<polygon points="617.50,400.00 629.50,398.10 629.50,401.90" fill="#111"/>
<polygon points="743.00,400.00 731.00,401.90 731.00,398.10" fill="#111"/>
<path d="M617.5,397 L617.5,447 Q618,451 622,451 L738.5,451 Q742.5,451 743,447 L743,397" stroke="#111" stroke-width="1.82" fill="none" />
<path d="M617.5,447.5 Q680,425 743,447.5" stroke="#111" stroke-width="1.54" fill="none" />
<line x1="680.7" y1="446" x2="680.7" y2="640" stroke="#111" stroke-width="1.26" />
<line x1="645.5" y1="451" x2="645.5" y2="465" stroke="#111" stroke-width="1.4" />
<line x1="715" y1="451" x2="715" y2="465" stroke="#111" stroke-width="1.4" />
<line x1="619" y1="459" x2="619" y2="483.3" stroke="#111" stroke-width="1.26" />
<line x1="742.5" y1="459" x2="742.5" y2="483.3" stroke="#111" stroke-width="1.26" />
<line x1="619" y1="464.5" x2="787.5" y2="464.5" stroke="#111" stroke-width="1.4" />
<polygon points="619.00,464.50 631.00,462.60 631.00,466.40" fill="#111"/>
<polygon points="742.50,464.50 730.50,466.40 730.50,462.60" fill="#111"/>
<text x="768.75" y="459.50" font-size="18.02" text-anchor="middle" fill="#1c1c1c" textLength="39.7" lengthAdjust="spacingAndGlyphs">Ø 63</text>
<rect x="643.5" y="466.5" width="74.29999999999995" height="3.8000000000000114" rx="1" stroke="#111" stroke-width="1.4" fill="#fff"/>
<rect x="647" y="470.3" width="68.5" height="5.0" rx="1" stroke="#111" stroke-width="1.4" fill="#fff"/>
<line x1="668" y1="477.7" x2="694" y2="477.7" stroke="#111" stroke-width="2.1" />
<line x1="619" y1="483.3" x2="742.5" y2="483.3" stroke="#111" stroke-width="1.82" />
<path d="M641.3,495 L641.3,491 Q641,486 637,484 M722,495 L722,491 Q722,486 726,484" stroke="#111" stroke-width="1.68" fill="none" />
<line x1="641.3" y1="491.5" x2="722" y2="491.5" stroke="#555" stroke-width="1.12" />
<rect x="623.3" y="494.6" width="115.40000000000009" height="8.399999999999977" rx="1.5" stroke="#111" stroke-width="1.82" fill="#fff"/>
<line x1="641.3" y1="503" x2="641.3" y2="564" stroke="#111" stroke-width="1.54" />
<line x1="722" y1="503" x2="722" y2="564" stroke="#111" stroke-width="1.54" />
<line x1="641" y1="522" x2="722" y2="522" stroke="#111" stroke-width="1.68" />
<path d="M664,522 L664,546 L674.5,555 L688,555 L697.5,546 L697.5,522" stroke="#111" stroke-width="1.54" fill="none" />
<line x1="664" y1="546" x2="697.5" y2="546" stroke="#111" stroke-width="1.26" />
<line x1="595" y1="562" x2="723.5" y2="562" stroke="#111" stroke-width="1.4" />
<polygon points="641.00,562.00 653.00,560.10 653.00,563.90" fill="#111"/>
<polygon points="722.00,562.00 710.00,563.90 710.00,560.10" fill="#111"/>
<text x="611.75" y="557.50" font-size="18.02" text-anchor="middle" fill="#1c1c1c" textLength="36.7" lengthAdjust="spacingAndGlyphs">Ø 41</text>
<rect x="675" y="555" width="12.5" height="57" fill="#111"/>
<path d="M676.5,556.94L686.8,556.45" stroke="#777" stroke-width="0.5" fill="none"/>
<path d="M676.4,559.10L686.7,559.71" stroke="#777" stroke-width="0.5" fill="none"/>
<path d="M677.9,560.90L685.6,560.88" stroke="#777" stroke-width="0.5" fill="none"/>
<path d="M676.3,562.96L685.9,563.36" stroke="#777" stroke-width="0.5" fill="none"/>
<path d="M676.7,565.47L686.2,565.94" stroke="#777" stroke-width="0.5" fill="none"/>
<path d="M677.0,567.91L686.7,568.56" stroke="#777" stroke-width="0.5" fill="none"/>
<path d="M675.9,569.71L686.9,570.38" stroke="#777" stroke-width="0.5" fill="none"/>
<path d="M677.7,571.82L685.7,572.23" stroke="#777" stroke-width="0.5" fill="none"/>
<path d="M677.2,574.27L686.9,574.32" stroke="#777" stroke-width="0.5" fill="none"/>
<path d="M675.9,576.51L686.2,576.33" stroke="#777" stroke-width="0.5" fill="none"/>
<path d="M676.4,578.71L685.6,579.22" stroke="#777" stroke-width="0.5" fill="none"/>
<path d="M676.2,581.14L686.8,581.14" stroke="#777" stroke-width="0.5" fill="none"/>
<path d="M676.4,583.14L685.5,583.07" stroke="#777" stroke-width="0.5" fill="none"/>
<path d="M676.8,585.47L686.2,585.39" stroke="#777" stroke-width="0.5" fill="none"/>
<path d="M675.7,587.41L685.8,586.79" stroke="#777" stroke-width="0.5" fill="none"/>
<path d="M676.5,589.94L686.7,590.01" stroke="#777" stroke-width="0.5" fill="none"/>
<path d="M676.6,592.07L686.5,591.79" stroke="#777" stroke-width="0.5" fill="none"/>
<path d="M676.5,593.97L685.7,594.09" stroke="#777" stroke-width="0.5" fill="none"/>
<path d="M676.0,596.17L686.8,595.59" stroke="#777" stroke-width="0.5" fill="none"/>
<path d="M676.2,598.17L685.6,598.22" stroke="#777" stroke-width="0.5" fill="none"/>
<path d="M677.6,600.85L686.3,601.11" stroke="#777" stroke-width="0.5" fill="none"/>
<path d="M677.7,602.78L685.7,602.48" stroke="#777" stroke-width="0.5" fill="none"/>
<path d="M677.6,605.11L687.0,604.90" stroke="#777" stroke-width="0.5" fill="none"/>
<path d="M677.6,607.06L686.4,607.08" stroke="#777" stroke-width="0.5" fill="none"/>
<path d="M677.1,609.55L686.9,610.22" stroke="#777" stroke-width="0.5" fill="none"/>
<line x1="640" y1="593" x2="715" y2="593" stroke="#111" stroke-width="1.4" />
<polygon points="675.00,593.00 663.00,594.90 663.00,591.10" fill="#111"/>
<polygon points="687.50,593.00 699.50,591.10 699.50,594.90" fill="#111"/>
<text x="653.00" y="589.50" font-size="18.02" text-anchor="middle" fill="#1c1c1c" textLength="28.2" lengthAdjust="spacingAndGlyphs">M6</text>
<line x1="742.5" y1="483.3" x2="784" y2="483.3" stroke="#111" stroke-width="1.4" />
<line x1="742.5" y1="615.8" x2="784" y2="615.8" stroke="#111" stroke-width="1.4" />
<line x1="780.3" y1="483.3" x2="780.3" y2="615.8" stroke="#111" stroke-width="1.4" />
<polygon points="780.30,483.30 782.20,495.30 778.40,495.30" fill="#111"/>
<polygon points="780.30,615.80 778.40,603.80 782.20,603.80" fill="#111"/>
<text x="777.50" y="548.75" font-size="21.51" text-anchor="middle" fill="#1c1c1c" transform="rotate(-90 777.50 548.75)" textLength="85.1" lengthAdjust="spacingAndGlyphs">0-63MAX</text>
<path d="M620.5,768 L620.5,615.8 L625,612.2 L738,612.2 L742.5,615.8 L742.5,768" stroke="#111" stroke-width="1.96" fill="none" />
<line x1="620.5" y1="615.8" x2="742.5" y2="615.8" stroke="#111" stroke-width="1.4" />
<line x1="620.5" y1="625" x2="742.5" y2="625" stroke="#111" stroke-width="1.68" />
<path d="M633.2,743 L633.2,628.3 L729.6,628.3 L729.6,743" stroke="#111" stroke-width="1.54" fill="none" />
<line x1="633.2" y1="637.8" x2="729.6" y2="637.8" stroke="#111" stroke-width="1.4" />
<line x1="640.5" y1="637.8" x2="640.5" y2="718" stroke="#111" stroke-width="1.4" />
<line x1="721.3" y1="637.8" x2="721.3" y2="718" stroke="#111" stroke-width="1.4" />
<rect x="640.5" y="661" width="80.0" height="27" fill="#1c1c1c"/>
<path d="M641.2,662.84L674.8,662.23M674.8,662.23L701.3,662.78M703.4,662.78L719.4,662.90" stroke="#c0c0c0" stroke-width="0.6" fill="none"/>
<path d="M641.5,665.31L657.8,664.65M660.1,664.65L687.8,664.07M688.3,664.07L714.5,664.12M715.2,664.12L719.0,664.16" stroke="#c0c0c0" stroke-width="0.6" fill="none"/>
<path d="M641.7,668.11L659.2,668.28M660.1,668.28L694.1,668.78M695.9,668.78L715.2,668.69M716.0,668.69L718.7,668.29" stroke="#c0c0c0" stroke-width="0.6" fill="none"/>
<path d="M643.3,670.15L681.1,669.74M681.6,669.74L696.5,669.58M698.7,669.58L719.9,669.44" stroke="#c0c0c0" stroke-width="0.6" fill="none"/>
<path d="M641.4,672.73L662.3,672.50M662.6,672.50L682.3,672.59M682.9,672.59L715.1,672.83M716.6,672.83L718.9,672.68" stroke="#c0c0c0" stroke-width="0.6" fill="none"/>
<path d="M642.5,675.45L668.0,675.85M670.1,675.85L696.9,675.53M699.1,675.53L719.7,675.97" stroke="#c0c0c0" stroke-width="0.6" fill="none"/>
<path d="M641.9,678.17L668.4,678.48M669.3,678.48L702.3,677.93M703.6,677.93L719.3,677.98" stroke="#c0c0c0" stroke-width="0.6" fill="none"/>
<path d="M642.1,680.37L671.3,679.95M671.5,679.95L705.3,679.68M707.5,679.68L719.2,680.36" stroke="#c0c0c0" stroke-width="0.6" fill="none"/>
<path d="M642.9,682.75L657.2,683.08M658.0,683.08L684.5,682.73M686.2,682.73L714.8,682.18M716.2,682.18L718.9,681.72" stroke="#c0c0c0" stroke-width="0.6" fill="none"/>
<path d="M641.5,685.32L670.5,684.70M671.7,684.70L690.9,684.23M691.2,684.23L718.6,684.75" stroke="#c0c0c0" stroke-width="0.6" fill="none"/>
<text x="680.15" y="712.70" font-size="18.99" text-anchor="middle" fill="#1c1c1c" textLength="58.0" lengthAdjust="spacingAndGlyphs">G1"1/4</text>
<line x1="640.5" y1="716" x2="721.3" y2="716" stroke="#111" stroke-width="1.4" />
<polygon points="640.50,716.00 652.50,714.10 652.50,717.90" fill="#111"/>
<polygon points="721.30,716.00 709.30,717.90 709.30,714.10" fill="#111"/>
<text x="680.25" y="737.50" font-size="18.72" text-anchor="middle" fill="#1c1c1c" textLength="40.7" lengthAdjust="spacingAndGlyphs">Ø 49</text>
<line x1="633.2" y1="740.8" x2="729.6" y2="740.8" stroke="#111" stroke-width="1.4" />
<polygon points="633.20,740.80 645.20,738.90 645.20,742.70" fill="#111"/>
<polygon points="729.60,740.80 717.60,742.70 717.60,738.90" fill="#111"/>
<text x="684.75" y="761.50" font-size="18.72" text-anchor="middle" fill="#1c1c1c" textLength="41.7" lengthAdjust="spacingAndGlyphs">Ø 63</text>
<line x1="620.5" y1="765.2" x2="742.5" y2="765.2" stroke="#111" stroke-width="1.4" />
<polygon points="620.50,765.20 632.50,763.30 632.50,767.10" fill="#111"/>
<polygon points="742.50,765.20 730.50,767.10 730.50,763.30" fill="#111"/>
</g>
</svg>
</body></html>
